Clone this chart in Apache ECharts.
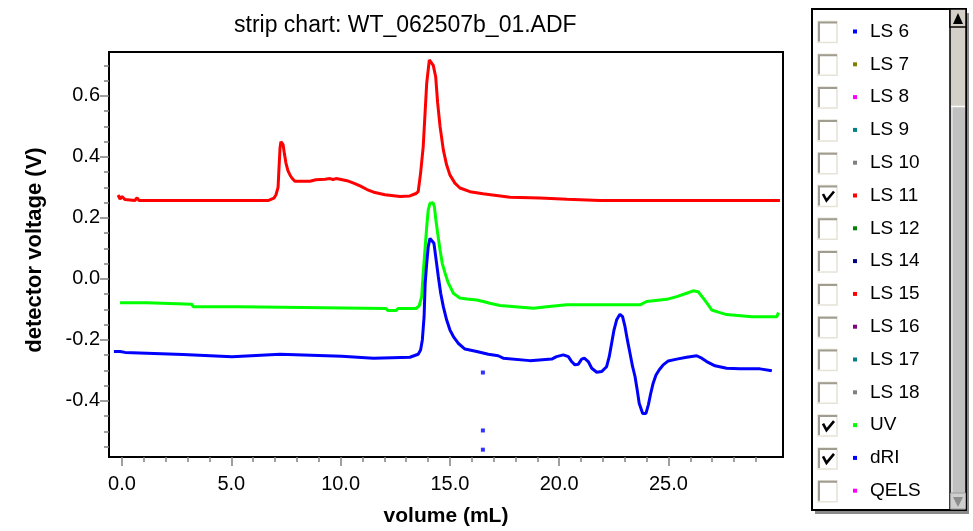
<!DOCTYPE html>
<html>
<head>
<meta charset="utf-8">
<script src="https://cdn.jsdelivr.net/npm/echarts@6/dist/echarts.min.js"></script>
<style>
html, body { margin: 0; padding: 0; background: #fff; }
#chart { width: 973px; height: 531px; }
</style>
</head>
<body>
<div id="chart"></div>
<script>
// traces: [volume (mL), detector voltage (V)]
var ls11Data = [
	[-0.18,0.275],[-0.09,0.262],[0.0,0.27],[0.14,0.26],[0.59,0.257],[0.69,0.266],[0.78,0.257],
	[4.76,0.257],[4.8,0.263],[4.85,0.257],[6.68,0.257],[6.77,0.262],[6.95,0.265],[7.04,0.275],
	[7.14,0.30],[7.18,0.36],[7.23,0.43],[7.27,0.45],[7.37,0.44],[7.43,0.41],[7.5,0.38],[7.59,0.355],
	[7.69,0.34],[7.78,0.33],[7.91,0.32],[8.6,0.32],[8.87,0.325],[9.29,0.327],[9.52,0.329],[9.65,0.326],
	[9.79,0.329],[9.97,0.327],[10.29,0.322],[10.57,0.315],[10.89,0.305],[11.21,0.293],[11.57,0.283],
	[12.03,0.276],[12.72,0.27],[13.17,0.272],[13.45,0.28],[13.55,0.286],[13.66,0.347],[13.78,0.434],
	[13.86,0.538],[13.94,0.642],[14.06,0.718],[14.14,0.722],[14.24,0.70],[14.35,0.663],[14.44,0.577],
	[14.55,0.5],[14.7,0.423],[14.85,0.374],[15.0,0.341],[15.23,0.314],[15.46,0.298],[15.92,0.286],
	[16.51,0.279],[17.75,0.268],[19.12,0.265],[20.36,0.261],[21.87,0.257],[30.1,0.257]
];
var uvData = [
	[-0.09,-0.078],[1.14,-0.078],[1.19,-0.083],[3.2,-0.083],[3.25,-0.091],[5.35,-0.091],[5.4,-0.097],
	[12.08,-0.097],[12.17,-0.104],[12.53,-0.104],[12.63,-0.097],[13.45,-0.097],[13.59,-0.089],
	[13.71,-0.058],[13.78,0.019],[13.86,0.095],[13.94,0.171],[14.01,0.226],[14.09,0.248],[14.17,0.253],
	[14.23,0.25],[14.29,0.237],[14.36,0.193],[14.44,0.15],[14.55,0.095],[14.65,0.051],[14.78,0.019],
	[14.93,-0.014],[15.16,-0.047],[15.46,-0.063],[15.78,-0.066],[16.23,-0.069],[16.53,-0.074],
	[16.83,-0.08],[17.29,-0.087],[18.82,-0.096],[19.43,-0.091],[20.34,-0.085],[23.7,-0.085],
	[24.0,-0.074],[24.92,-0.067],[25.38,-0.058],[25.83,-0.047],[26.13,-0.039],[26.36,-0.042],
	[26.59,-0.063],[26.82,-0.085],[26.98,-0.102],[27.28,-0.109],[27.66,-0.117],[28.81,-0.124],
	[29.96,-0.124],[30.03,-0.11]
];
var driData = [
	[-0.37,-0.238],[-0.09,-0.238],[0.14,-0.241],[2.79,-0.248],[5.03,-0.255],[7.23,-0.247],
	[10.05,-0.254],[11.5,-0.26],[13.17,-0.257],[13.55,-0.247],[13.66,-0.233],[13.74,-0.2],
	[13.82,-0.124],[13.87,-0.014],[13.94,0.051],[14.01,0.106],[14.09,0.133],[14.17,0.139],
	[14.27,0.117],[14.36,0.068],[14.47,0.008],[14.58,-0.047],[14.7,-0.091],[14.85,-0.134],
	[15.0,-0.167],[15.16,-0.189],[15.38,-0.211],[15.69,-0.23],[16.23,-0.238],[16.76,-0.247],
	[17.21,-0.252],[17.44,-0.26],[18.66,-0.268],[19.66,-0.263],[19.88,-0.255],[20.19,-0.249],
	[20.42,-0.255],[20.57,-0.271],[20.72,-0.282],[20.87,-0.28],[21.03,-0.263],[21.15,-0.26],
	[21.33,-0.271],[21.49,-0.293],[21.72,-0.306],[21.94,-0.304],[22.17,-0.288],[22.29,-0.255],
	[22.4,-0.211],[22.51,-0.167],[22.63,-0.134],[22.78,-0.116],[22.9,-0.124],[23.01,-0.156],
	[23.12,-0.2],[23.24,-0.244],[23.36,-0.288],[23.47,-0.32],[23.57,-0.364],[23.66,-0.408],
	[23.82,-0.441],[23.97,-0.441],[24.08,-0.413],[24.19,-0.375],[24.3,-0.342],[24.43,-0.315],
	[24.58,-0.298],[24.76,-0.282],[24.99,-0.269],[25.38,-0.263],[25.83,-0.257],[26.29,-0.252],
	[26.52,-0.26],[26.75,-0.271],[27.13,-0.285],[27.66,-0.293],[28.27,-0.295],[29.19,-0.295],
	[29.28,-0.301],[29.73,-0.301]
];
// stray dRI samples near 16.5 mL
var driStray = [[16.51,-0.307],[16.51,-0.497],[16.51,-0.56]];

var xLabelTicks = [0, 5, 10, 15, 20, 25];
var xMinorTicks = [0,1,2,3,4,5,6,7,8,9,10,11,12,13,14,15,16,17,18,19,20,21,22,23,24,25,26,27,28,29];
var yLabelTicks = [-0.4, -0.2, 0, 0.2, 0.4, 0.6];
var yMinorTicks = [-0.55,-0.5,-0.45,-0.4,-0.35,-0.3,-0.25,-0.2,-0.15,-0.1,-0.05,0,
	0.05,0.1,0.15,0.2,0.25,0.3,0.35,0.4,0.45,0.5,0.55,0.6,0.65,0.7];

var legendNames = ['LS 6','LS 7','LS 8','LS 9','LS 10','LS 11','LS 12','LS 14','LS 15','LS 16','LS 17','LS 18','UV','dRI','QELS'];
var legendColors = ['#0000ff','#808000','#ff00ff','#008080','#808080','#ff0000','#008000','#000080','#ff0000','#800080','#008080','#808080','#00ff00','#0000ff','#ff00ff'];
var legendChecked = [false,false,false,false,false,true,false,false,false,false,false,false,true,true,false];

var FONT = 'Liberation Sans, Arial, sans-serif';

function buildLegendPanel() {
	var els = [];
	// shadow + panel
	els.push({ type: 'rect', shape: { x: 815, y: 13, width: 154, height: 501 }, style: { fill: '#8a8a8a' }, z: 1 });
	els.push({ type: 'rect', shape: { x: 812, y: 9, width: 154, height: 501 }, style: { fill: '#fff', stroke: '#000', lineWidth: 2 }, z: 2 });
	// scrollbar
	els.push({ type: 'rect', shape: { x: 950, y: 9, width: 16, height: 501 }, style: { fill: '#c0c0c0', stroke: '#000', lineWidth: 1.5 }, z: 3 });
	els.push({ type: 'rect', shape: { x: 951, y: 27, width: 14, height: 79 }, style: { fill: '#d4d0c8' }, z: 4 });
	els.push({ type: 'line', shape: { x1: 951, y1: 106.5, x2: 965, y2: 106.5 }, style: { stroke: '#fff', lineWidth: 1.5 }, z: 4 });
	els.push({ type: 'line', shape: { x1: 952, y1: 107, x2: 952, y2: 493 }, style: { stroke: '#f4f4f4', lineWidth: 1 }, z: 4 });
	els.push({ type: 'rect', shape: { x: 950, y: 9, width: 16, height: 18 }, style: { fill: '#d4d0c8', stroke: '#000', lineWidth: 1.5 }, z: 5 });
	els.push({ type: 'polygon', shape: { points: [[953, 24], [963, 24], [958, 13]] }, style: { fill: '#000' }, z: 6 });
	els.push({ type: 'rect', shape: { x: 950.5, y: 493, width: 15, height: 16 }, style: { fill: '#cfcfcf', stroke: '#9a9a9a', lineWidth: 1 }, z: 5 });
	els.push({ type: 'polygon', shape: { points: [[953, 497], [963, 497], [958, 507]] }, style: { fill: '#8c8c8c' }, z: 6 });

	for (var i = 0; i < legendNames.length; i++) {
		var cy = 31.5 + i * 32.8;
		// sunken checkbox
		els.push({ type: 'rect', shape: { x: 818, y: cy - 10, width: 19, height: 21 }, style: { fill: '#fff', stroke: '#e6e3d6', lineWidth: 1.5 }, z: 3 });
		els.push({ type: 'polyline', shape: { points: [[819, cy + 10], [819, cy - 9], [837, cy - 9]] }, style: { stroke: '#a09d90', lineWidth: 2, fill: null }, z: 4 });
		if (legendChecked[i]) {
			els.push({ type: 'polyline', shape: { points: [[823, cy - 1.5], [826.5, cy + 5], [834, cy - 4]] }, style: { stroke: '#000', lineWidth: 2.6, fill: null }, z: 5 });
		}
		els.push({ type: 'rect', shape: { x: 853, y: cy - 2, width: 4, height: 4 }, style: { fill: legendColors[i] }, z: 3 });
		els.push({ type: 'text', x: 870, y: cy, style: { text: legendNames[i], fill: '#000', font: '19px ' + FONT, verticalAlign: 'middle', align: 'left' }, z: 3 });
	}
	return els;
}

var dom = document.getElementById('chart');
var myChart = echarts.init(dom);

var option = {
	animation: false,
	title: {
		text: 'strip chart: WT_062507b_01.ADF',
		left: 229,
		top: 9,
		textStyle: { fontFamily: FONT, fontSize: 23, fontWeight: 'normal', color: '#000' }
	},
	grid: {
		left: 109,
		right: 190,
		top: 52,
		bottom: 74,
		show: true,
		borderColor: '#000',
		borderWidth: 2,
		outerBoundsMode: 'none',
		containLabel: false
	},
	xAxis: [{
		type: 'value',
		min: -0.595,
		max: 30.24,
		position: 'bottom',
		axisLine: { onZero: false, lineStyle: { color: '#000', width: 2 } },
		axisTick: { customValues: xLabelTicks, length: 9, lineStyle: { color: '#808080', width: 1.5 } },
		axisLabel: {
			customValues: xLabelTicks,
			margin: 17,
			fontFamily: FONT,
			fontSize: 20,
			color: '#000',
			formatter: function (v) { return v.toFixed(1); }
		},
		splitLine: { show: false }
	}, {
		type: 'value',
		min: -0.595,
		max: 30.24,
		position: 'bottom',
		axisLine: { show: false, onZero: false },
		axisTick: { customValues: xMinorTicks, length: 5, lineStyle: { color: '#808080', width: 1.5 } },
		axisLabel: { show: false },
		splitLine: { show: false }
	}],
	yAxis: [{
		type: 'value',
		min: -0.584,
		max: 0.744,
		position: 'left',
		axisLine: { show: true, onZero: false, lineStyle: { color: '#000', width: 2 } },
		axisTick: { show: true, customValues: yLabelTicks, length: 9, lineStyle: { color: '#808080', width: 1.5 } },
		axisLabel: {
			customValues: yLabelTicks,
			margin: 9,
			fontFamily: FONT,
			fontSize: 20,
			color: '#000',
			formatter: function (v) { return v.toFixed(1); }
		},
		splitLine: { show: false }
	}, {
		type: 'value',
		min: -0.584,
		max: 0.744,
		position: 'left',
		axisLine: { show: false, onZero: false },
		axisTick: { show: true, customValues: yMinorTicks, length: 5, lineStyle: { color: '#808080', width: 1.5 } },
		axisLabel: { show: false },
		splitLine: { show: false }
	}],
	graphic: [
		{ type: 'text', x: 446, y: 516, style: { text: 'volume (mL)', fill: '#000', font: 'bold 21px ' + FONT, align: 'center', verticalAlign: 'middle' } },
		{ type: 'text', x: 35, y: 250, rotation: Math.PI / 2, style: { text: 'detector voltage (V)', fill: '#000', font: 'bold 22px ' + FONT, align: 'center', verticalAlign: 'middle' } }
	].concat(buildLegendPanel()),
	series: [{
		name: 'LS 11',
		type: 'line',
		data: ls11Data,
		symbol: 'none',
		lineStyle: { color: '#ff0000', width: 3 }
	}, {
		name: 'UV',
		type: 'line',
		data: uvData,
		symbol: 'none',
		lineStyle: { color: '#00ff00', width: 3 }
	}, {
		name: 'dRI',
		type: 'line',
		data: driData,
		symbol: 'none',
		lineStyle: { color: '#0000ff', width: 3 }
	}, {
		name: 'dRI stray',
		type: 'scatter',
		data: driStray,
		symbol: 'rect',
		symbolSize: 4,
		itemStyle: { color: '#0000ff' }
	}]
};

myChart.setOption(option);
window.addEventListener('resize', function () {
	myChart.resize();
});
</script>
</body>
</html>
